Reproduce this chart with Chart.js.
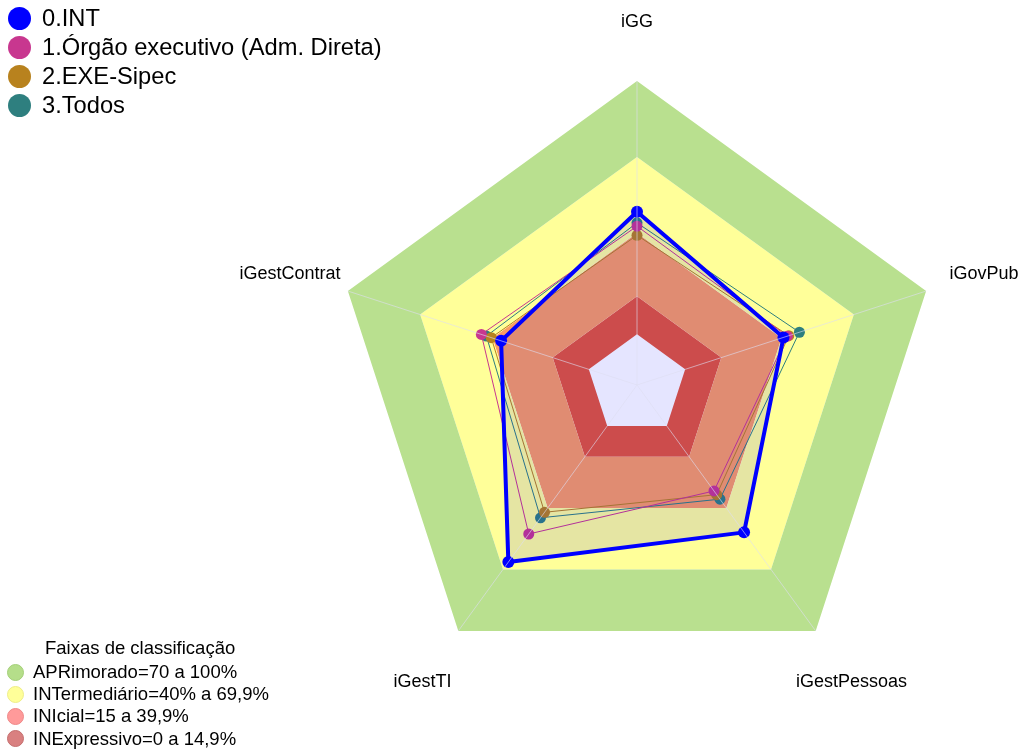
<!DOCTYPE html>
<html>
<head>
<meta charset="utf-8">
<script src="https://cdn.jsdelivr.net/npm/chart.js@4.4.1/dist/chart.umd.min.js"></script>
<style>
html,body{margin:0;padding:0;background:#fff;overflow:hidden}
#wrap{position:relative;width:1021px;height:753px}
#c{position:absolute;left:0;top:0}
.leg{position:absolute;font-family:"Liberation Sans",Arial,sans-serif;color:#000;white-space:nowrap}
#seriesLegend{left:8px;top:4px;font-size:23.7px}
#seriesLegend .row{display:flex;align-items:center;height:29px}
#seriesLegend .dot{width:23px;height:23px;border-radius:50%;margin-right:11px;flex:none}
#bandLegend{left:7px;top:635px;font-size:18.5px}
#bandLegend .title{margin-left:38px;height:26px;line-height:26px}
#bandLegend .row{display:flex;align-items:center;height:22.2px}
#bandLegend .dot{width:17px;height:17px;border-radius:50%;margin-right:9px;box-sizing:border-box;border:1px solid;flex:none}
</style>
</head>
<body>
<div id="wrap">
<canvas id="c" width="1021" height="753"></canvas>
<div id="seriesLegend" class="leg"></div>
<div id="bandLegend" class="leg"><div class="title">Faixas de classificação</div></div>
</div>
<script>
// ---- data ----
const axisLabels = ['iGG', 'iGovPub', 'iGestPessoas', 'iGestTI', 'iGestContrat'];
const seriesNames = ['0.INT', '1.Órgão executivo (Adm. Direta)', '2.EXE-Sipec', '3.Todos'];
const intValues = [48.4, 40.8, 51.9, 66.4, 36.4];
const orgaoValues = [42.7, 42.4, 31.7, 52.7, 44.6];
const sipecValues = [39.1, 43.0, 33.5, 42.1, 40.5];
const todosValues = [44.0, 47.4, 35.7, 44.8, 42.5];
const bandNames = ['APRimorado=70 a 100%', 'INTermediário=40% a 69,9%', 'INIcial=15 a 39,9%', 'INExpressivo=0 a 14,9%'];
const bandUpper = [100, 70, 40, 15];
const bandLower = [70, 40, 15, 0];
const scaleMin = -20;
const scaleMax = 100;

// ---- styles ----
const seriesColors = ['#0000FF', '#C8378F', '#B8821E', '#2E7F7F'];
const seriesWidths = [4, 1, 1, 1];
const seriesPointRadius = [6, 5.5, 5.5, 5.5];
const bandFill = ['#B9E08F', '#FFFF99', '#FA9C63', '#E45538'];
const bandLegendFill = ['#B5DE8A', '#FFFF99', '#FF9A9A', '#D98080'];
const bandLegendBorder = ['#A3CF78', '#EDED88', '#EE8888', '#C46E6E'];

const seriesValues = [intValues, orgaoValues, sipecValues, todosValues];

const seriesDatasets = seriesNames.map((name, i) => ({
  label: name,
  data: seriesValues[i],
  borderColor: seriesColors[i],
  backgroundColor: i === 0 ? 'rgba(0,0,255,0.1)' : 'transparent',
  fill: i === 0 ? 'start' : false,
  borderWidth: seriesWidths[i],
  borderJoinStyle: 'round',
  pointRadius: seriesPointRadius[i],
  pointBorderWidth: 0,
  pointBackgroundColor: seriesColors[i],
  pointBorderColor: seriesColors[i]
}));

const bandDatasets = bandNames.map((name, i) => ({
  label: name,
  data: axisLabels.map(() => bandUpper[i]),
  fill: { value: bandLower[i] },
  backgroundColor: bandFill[i],
  borderColor: 'transparent',
  borderWidth: 0,
  pointRadius: 0,
  pointHitRadius: 0
}));

const axisLabelPlugin = {
  id: 'axisLabelPlugin',
  afterDraw(chart) {
    const s = chart.scales.r;
    const ctx = chart.ctx;
    ctx.save();
    ctx.font = '18px "Liberation Sans", Arial, sans-serif';
    ctx.fillStyle = '#000';
    ctx.textAlign = 'center';
    ctx.textBaseline = 'middle';
    axisLabels.forEach((lab, i) => {
      const p = s.getPointPosition(i, s.drawingArea * 1.2);
      ctx.fillText(lab, p.x, p.y + 2);
    });
    ctx.restore();
  }
};

new Chart(document.getElementById('c'), {
  type: 'radar',
  data: { labels: axisLabels, datasets: seriesDatasets.concat(bandDatasets) },
  options: {
    responsive: false,
    animation: false,
    events: [],
    layout: { padding: { left: 333, right: 80, top: 81, bottom: 64 } },
    elements: { line: { tension: 0 } },
    plugins: { legend: { display: false }, tooltip: { enabled: false }, title: { display: false } },
    scales: {
      r: {
        min: scaleMin,
        max: scaleMax,
        startAngle: 0,
        ticks: { display: false, stepSize: 20 },
        grid: { display: false, z: 1 },
        angleLines: { display: true, color: 'rgba(222,222,242,0.6)', lineWidth: 1 },
        pointLabels: { display: false }
      }
    }
  },
  plugins: [axisLabelPlugin]
});

// ---- HTML legends ----
const sl = document.getElementById('seriesLegend');
seriesNames.forEach((n, i) => {
  const row = document.createElement('div');
  row.className = 'row';
  const d = document.createElement('span');
  d.className = 'dot';
  d.style.background = seriesColors[i];
  const t = document.createElement('span');
  t.textContent = n;
  row.appendChild(d); row.appendChild(t);
  sl.appendChild(row);
});
const bl = document.getElementById('bandLegend');
bandNames.forEach((n, i) => {
  const row = document.createElement('div');
  row.className = 'row';
  const d = document.createElement('span');
  d.className = 'dot';
  d.style.background = bandLegendFill[i];
  d.style.borderColor = bandLegendBorder[i];
  const t = document.createElement('span');
  t.textContent = n;
  row.appendChild(d); row.appendChild(t);
  bl.appendChild(row);
});
</script>
</body>
</html>
